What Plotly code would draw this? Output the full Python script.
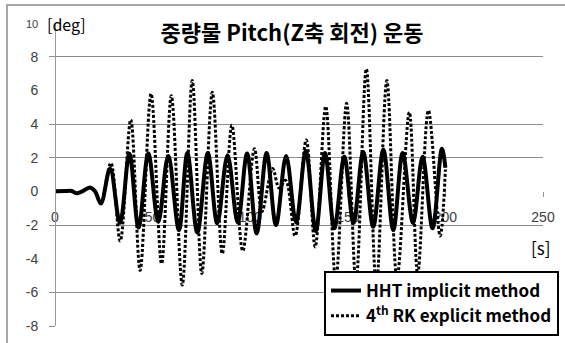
import plotly.graph_objects as go

# ---- data ----
t_hht = [0, 5, 8.5, 11, 14, 17.9, 20.5, 23.5, 28.2, 33.3, 38.1, 42.8, 47.8, 52.9, 58.0, 63.5,
         67.8, 72.9, 78.3, 83.1, 88.4, 93.6, 98.4, 103.3, 108.4, 113.2, 118.4, 123.5, 128.5,
         133.6, 138.3, 143.1, 148.2, 152.9, 157.9, 163.0, 168.2, 173.3, 178.1, 183.4, 188.3,
         193.4, 198.2, 200]
v_hht = [0, 0.02, 0.02, -0.12, 0.0, 0.23, 0.0, -0.72, 1.35, -1.88, 2.23, -2.15, 2.25, -1.82,
         2.1, -2.3, 2.27, -2.45, 2.27, -1.9, 2.15, -1.85, 2.25, -2.5, 2.27, -2.0, 2.1, -1.85,
         2.4, -2.35, 2.27, -2.2, 2.05, -1.88, 2.33, -2.1, 2.47, -2.3, 2.27, -1.88, 2.05, -2.2,
         2.53, 1.4]

t_rk = [0, 5, 8.5, 11, 14, 17.9, 20.5, 23.5, 28.6, 33.4, 38.8, 43.6, 49.2, 54.6, 59.6, 65.2,
        70.3, 75.2, 80.6, 85.7, 90.6, 96.2, 102.2, 106.0, 111.5, 114.8, 118.2, 123.0, 128.7,
        133.3, 138.7, 143.8, 149.4, 154.2, 159.5, 164.6, 170.0, 175.2, 181.5, 185.8, 191.3,
        197.3, 200]
v_rk = [0, 0.02, 0.02, -0.12, 0.0, 0.23, 0.0, -0.72, 1.68, -2.95, 4.25, -4.7, 5.8, -4.3,
        5.68, -5.57, 6.58, -4.88, 5.88, -3.7, 3.92, -3.54, 2.53, -1.2, 1.35, 0.2, 0.65, -2.65,
        3.05, -3.3, 5.04, -5.3, 5.23, -5.4, 7.27, -5.6, 6.58, -5.2, 4.7, -4.9, 4.8, -2.65, 1.3]

x_ticks = [0, 50, 100, 150, 200, 250]
y_ticks = [-8, -6, -4, -2, 0, 2, 4, 6, 8, 10]
y_ticktext = ["-8", "-6", "-4", "-2", "0", "2", "4", "6", "8",
              "<span style='font-size:11px'>10</span>"]
y_grid = [8, 4, 2, -2, -6, -8]

name_hht = "HHT implicit method"
name_rk = "4<sup>th</sup> RK explicit method"
title_text = "중량물 Pitch(Z축 회전) 운동"

# ---- figure ----
W, H = 565, 343
L, R, T, B = 55, 22, 23, 17
pw, ph = W - L - R, H - T - B

def px_x(p):
    return (p - L) / pw

def px_y(p):
    return (H - B - p) / ph

fig = go.Figure()
fig.add_trace(go.Scatter(x=t_hht, y=v_hht, mode="lines", name=name_hht,
                         line=dict(color="black", width=4, shape="spline"),
                         xaxis="x", yaxis="y"))
fig.add_trace(go.Scatter(x=t_rk, y=v_rk, mode="lines", name=name_rk,
                         line=dict(color="black", width=3, dash="3px,2px", shape="spline"),
                         xaxis="x", yaxis="y2"))

tickfont = dict(family="Liberation Sans", size=14, color="#404040")

fig.update_layout(
    width=W, height=H,
    margin=dict(l=L, r=R, t=T, b=B, pad=0, autoexpand=False),
    paper_bgcolor="white", plot_bgcolor="white",
    showlegend=True,
    title=dict(text=title_text, x=292 / W, xanchor="center", xref="container",
               y=1 - 33 / H, yanchor="middle", yref="container",
               font=dict(family="Noto Sans CJK KR", size=22, color="black", weight="bold")),
    xaxis=dict(range=[0, 250], tickvals=x_ticks, anchor="free", position=8 / 18,
               showgrid=False, zeroline=False, showline=False, automargin=False,
               ticks="outside", ticklen=5, tickcolor="#999", ticklabelstandoff=8,
               tickfont=tickfont, layer="below traces"),
    yaxis=dict(range=[-8, 10], tickvals=y_ticks, ticktext=y_ticktext,
               anchor="free", position=0, automargin=False,
               showgrid=False, zeroline=False, showline=True, linecolor="#999", linewidth=1,
               ticks="", ticklabelstandoff=14, tickfont=tickfont),
    yaxis2=dict(range=[-8, 10], tickvals=y_grid, overlaying="y", side="left",
                anchor="free", position=0, showticklabels=False, automargin=False,
                showgrid=True, gridcolor="#8c8c8c", gridwidth=1, zeroline=False,
                showline=False, ticks="outside", ticklen=6, tickcolor="#8c8c8c"),
    legend=dict(x=px_x(324), y=px_y(271), xanchor="left", yanchor="top",
                bgcolor="white", bordercolor="black", borderwidth=2,
                font=dict(family="Noto Sans CJK KR", size=17, color="black", weight="bold")),
    annotations=[
        dict(text="[deg]", xref="paper", yref="paper", x=px_x(45), y=px_y(24),
             xanchor="left", yanchor="middle", showarrow=False,
             font=dict(family="Noto Sans CJK KR", size=16, color="black")),
        dict(text="[s]", xref="paper", yref="paper", x=px_x(540), y=px_y(247),
             xanchor="center", yanchor="middle", showarrow=False,
             font=dict(family="Noto Sans CJK KR", size=17, color="black")),
    ],
    shapes=[
        dict(type="rect", xref="paper", yref="paper", x0=px_x(7), x1=1.3,
             y0=-0.3, y1=px_y(5), line=dict(color="#8c8c8c", width=1.5),
             fillcolor="rgba(0,0,0,0)", layer="below"),
    ],
)

fig.write_html("out.html")
